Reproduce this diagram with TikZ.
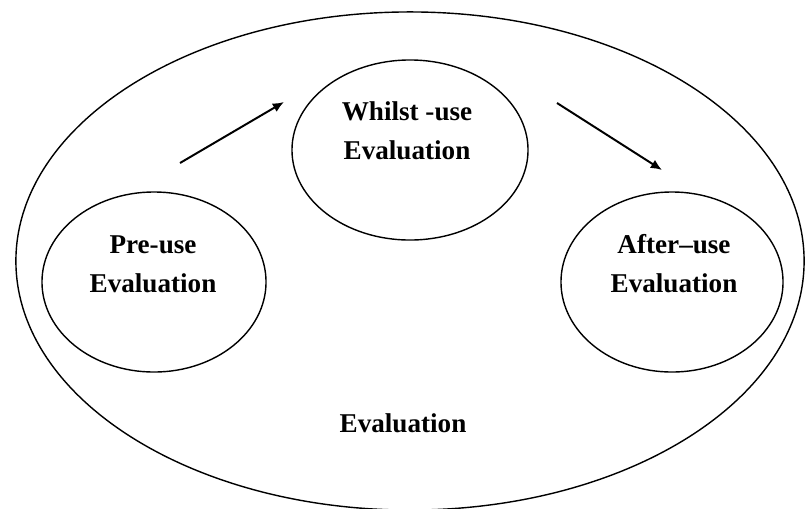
\documentclass[tikz,border=0pt]{standalone}
\usepackage{fontspec}
\setmainfont{Liberation Serif}
\usetikzlibrary{shapes.geometric, arrows.meta, positioning}

\tikzset{
    stage/.style={ellipse, draw, line width=1pt, inner sep=0pt, minimum height=4.5cm},
    evtext/.style={align=center, font=\fontsize{19.3pt}{27.7pt}\selectfont\bfseries},
    flow/.style={-{Latex[length=2.8mm, width=2.4mm]}, line width=1.4pt}
}

\begin{document}
\begin{tikzpicture}[x=0.025cm, y=-0.025cm]
    \useasboundingbox (0,0) rectangle (807,508);

    % Outer ellipse (Evaluation)
    \node[ellipse, draw, line width=1pt, inner sep=0pt, minimum width=19.7cm, minimum height=12.45cm] (eval) at (410,261) {};

    % The three stages
    \node[stage, minimum width=5.6cm] (pre) at (154,282) {};
    \node[stage, minimum width=5.9cm] (whilst) at (410,150) {};
    \node[stage, minimum width=5.55cm] (after) at (672,282) {};

    % Labels
    \node[evtext] (pretxt) at (153,264) {Pre-use\\Evaluation};
    \node[evtext] (whilsttxt) at (407,131) {Whilst -use\\Evaluation};
    \node[evtext] (aftertxt) at (674,264) {After--use\\Evaluation};
    \node[evtext] (evaltxt) at (403,423) {Evaluation};

    % Arrows between the stages
    \coordinate (a1s) at (180,163);
    \coordinate (a1e) at (284,102);
    \coordinate (a2s) at (557,103);
    \coordinate (a2e) at (662,170);
    \draw[flow] (a1s) -- (a1e);
    \draw[flow] (a2s) -- (a2e);
\end{tikzpicture}
\end{document}
